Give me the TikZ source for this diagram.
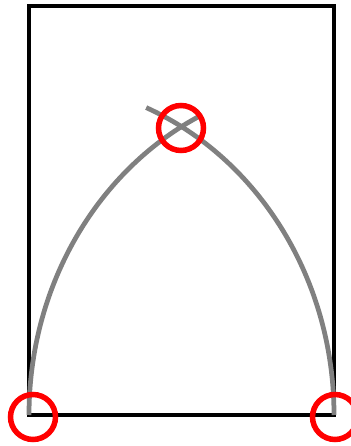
\documentclass[tikz,border=0pt]{standalone}
\usetikzlibrary{positioning}
\begin{document}
\begin{tikzpicture}[x=0.02cm, y=0.02cm,
      frame/.style={draw, line width=0.08cm},
      rib/.style={draw, black!50, line width=0.095cm},
      ring/.style={draw=red, circle, line width=0.11cm, minimum size=0.9cm, inner sep=0pt}]
    \useasboundingbox (0,0) rectangle (351,446);
    \draw[frame] (29,31) rectangle (334,440);
    \draw[rib] (29,31) arc[start angle=180, end angle=116.5, x radius=305, y radius=333];
    \draw[rib] (334,31) arc[start angle=0, end angle=67.4, x radius=305, y radius=333];
    \node[ring] (left)  at (33,29)   {};
    \node[ring] (apex)  at (181,318) {};
    \node[ring] (right) at (335,29)  {};
  \end{tikzpicture}
\end{document}
